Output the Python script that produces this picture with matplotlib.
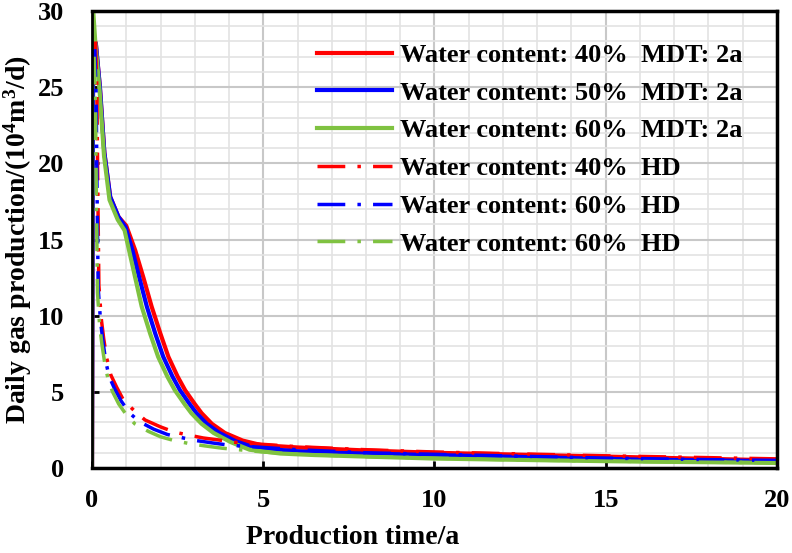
import matplotlib.pyplot as plt
import numpy as np

plt.rcParams['font.family'] = ['Liberation Serif', 'DejaVu Serif']
plt.rcParams['font.weight'] = 'bold'
plt.rcParams['mathtext.fontset'] = 'custom'
plt.rcParams['mathtext.rm'] = 'Liberation Serif:bold'
plt.rcParams['mathtext.it'] = 'Liberation Serif:bold'
plt.rcParams['mathtext.bf'] = 'Liberation Serif:bold'

# MDT (solid) curves
t_red = [0, 0.03, 0.11, 0.23, 0.36, 0.53, 0.77, 1.0, 1.26, 1.5, 1.74, 2.0, 2.23, 2.5, 2.72,
         3.0, 3.2, 3.5, 3.88, 4.4, 4.95, 6, 7, 8, 10, 12, 14, 16, 18, 20]
y_red = [0, 26.0, 27.9, 25.0, 20.7, 17.8, 16.5, 15.9, 14.3, 12.5, 10.6, 8.8, 7.3, 6.0, 5.1,
         4.2, 3.6, 2.9, 2.3, 1.8, 1.5, 1.35, 1.25, 1.15, 1.0, 0.9, 0.8, 0.7, 0.6, 0.5]

t_blue = [0, 0.03, 0.11, 0.23, 0.36, 0.53, 0.77, 0.98, 1.18, 1.38, 1.6, 1.85, 2.08, 2.35, 2.57,
          2.85, 3.05, 3.35, 3.72, 4.2, 4.8, 6, 7, 8, 10, 12, 14, 16, 18, 20]
y_blue = [0, 26.5, 27.9, 25.0, 20.7, 17.8, 16.5, 15.8, 14.3, 12.5, 10.6, 8.8, 7.3, 6.0, 5.1,
          4.2, 3.6, 2.9, 2.3, 1.75, 1.3, 1.1, 1.0, 0.95, 0.85, 0.75, 0.65, 0.55, 0.5, 0.45]

t_green = [0, 0.005, 0.1, 0.22, 0.35, 0.51, 0.75, 0.95, 1.1, 1.27, 1.45, 1.7, 1.93, 2.2, 2.42,
           2.7, 2.9, 3.2, 3.55, 4.05, 4.6, 5.5, 6.5, 8, 10, 12, 14, 16, 18, 20]
y_green = [0, 31.0, 27.8, 24.8, 20.5, 17.6, 16.3, 15.6, 14.1, 12.4, 10.6, 8.8, 7.3, 6.0, 5.1,
           4.2, 3.6, 2.9, 2.3, 1.7, 1.2, 0.95, 0.85, 0.75, 0.62, 0.55, 0.48, 0.42, 0.38, 0.33]

# HD (dash-dot) curves
t_red_hd = [0.1, 0.14, 0.17, 0.2, 0.27, 0.34, 0.43, 0.55, 0.72, 0.92, 1.26, 1.55, 2.0, 2.4, 2.8,
            3.25, 3.7, 4.1, 5, 6, 8, 10, 12, 15, 18, 20]
y_red_hd = [28.0, 25.0, 18.0, 12.0, 9.8, 8.5, 7.2, 6.1, 5.3, 4.45, 3.7, 3.15, 2.7, 2.36, 2.17,
            1.97, 1.84, 1.7, 1.55, 1.4, 1.2, 1.05, 0.95, 0.8, 0.68, 0.6]

t_blue_hd = [0.08, 0.12, 0.15, 0.18, 0.25, 0.32, 0.4, 0.5, 0.66, 0.85, 1.1, 1.38, 1.8, 2.2, 2.6,
             3.05, 3.5, 4.0, 5, 6, 8, 10, 12, 15, 18, 20]
y_blue_hd = [27.5, 24.5, 17.5, 11.8, 9.6, 8.3, 7.0, 6.0, 5.2, 4.4, 3.6, 3.05, 2.55, 2.2, 2.0,
             1.8, 1.65, 1.5, 1.35, 1.2, 1.0, 0.9, 0.8, 0.65, 0.55, 0.5]

t_green_hd = [0.06, 0.1, 0.13, 0.16, 0.22, 0.29, 0.37, 0.47, 0.6, 0.78, 1.0, 1.25, 1.65, 2.0, 2.4,
              2.85, 3.3, 3.8, 5, 6, 8, 10, 12, 15, 18, 20]
y_green_hd = [27.0, 24.0, 17.0, 11.5, 9.4, 8.1, 6.9, 5.8, 5.0, 4.2, 3.5, 2.9, 2.4, 2.05, 1.8,
              1.6, 1.45, 1.3, 1.05, 0.9, 0.75, 0.65, 0.55, 0.45, 0.38, 0.35]

labels = ['Water content: 40%  MDT: 2a', 'Water content: 50%  MDT: 2a',
          'Water content: 60%  MDT: 2a', 'Water content: 40%  HD',
          'Water content: 60%  HD', 'Water content: 60%  HD']

RED, BLUE, GREEN = '#ff0000', '#0000ff', '#7fc241'
dashdot = (0, (8, 3.5, 1, 3.5))

fig = plt.figure(figsize=(7.92, 5.53), dpi=100)
ax = fig.add_axes([0.1162, 0.1537, 0.8648, 0.8264])

ax.set_xlim(0, 20)
ax.set_ylim(0, 30)
ax.set_xticks(np.arange(0, 21, 5))
ax.set_yticks(np.arange(0, 31, 5))
ax.set_xticks(np.arange(0, 21, 1), minor=True)
ax.set_yticks(np.arange(0, 31, 1), minor=True)
ax.grid(which='minor', color='#e3e3e3', linewidth=1.2)
ax.grid(which='major', color='#c8c8c8', linewidth=1.5)
ax.set_axisbelow(True)
ax.tick_params(which='minor', length=0)
ax.tick_params(which='major', direction='in', length=5, width=2, color='black')
ax.tick_params(axis='x', labelsize=19, pad=15)
ax.tick_params(axis='y', labelsize=19, pad=20)
for s in ax.spines.values():
    s.set_linewidth(2)
    s.set_color('black')
ax.spines['top'].set_linewidth(2.5)
ax.spines['right'].set_linewidth(2.5)
ax.spines['bottom'].set_linewidth(2.5)

lw = 3
ax.plot(t_red, y_red, color=RED, lw=lw, label=labels[0])
ax.plot(t_blue, y_blue, color=BLUE, lw=lw, label=labels[1])
ax.plot(t_green, y_green, color=GREEN, lw=lw, label=labels[2])
ax.plot(t_red_hd, y_red_hd, color=RED, lw=2.5, linestyle=dashdot, label=labels[3])
ax.plot(t_blue_hd, y_blue_hd, color=BLUE, lw=2.5, linestyle=dashdot, label=labels[4])
ax.plot(t_green_hd, y_green_hd, color=GREEN, lw=2.5, linestyle=dashdot, label=labels[5])

ax.set_xlabel('Production time/a', fontsize=20, fontweight='bold')
ax.xaxis.set_label_coords(0.38, -0.125)
ax.set_ylabel('Daily gas production/(10$^4$m$^3$/d)', fontsize=20, fontweight='bold', labelpad=3)

leg = ax.legend(loc='upper left', bbox_to_anchor=(0.328, 0.929), frameon=False,
                fontsize=19, handlelength=2.84, handletextpad=0.3, labelspacing=0.54,
                borderpad=0, borderaxespad=0)

fig.savefig('out.png', dpi=100)
